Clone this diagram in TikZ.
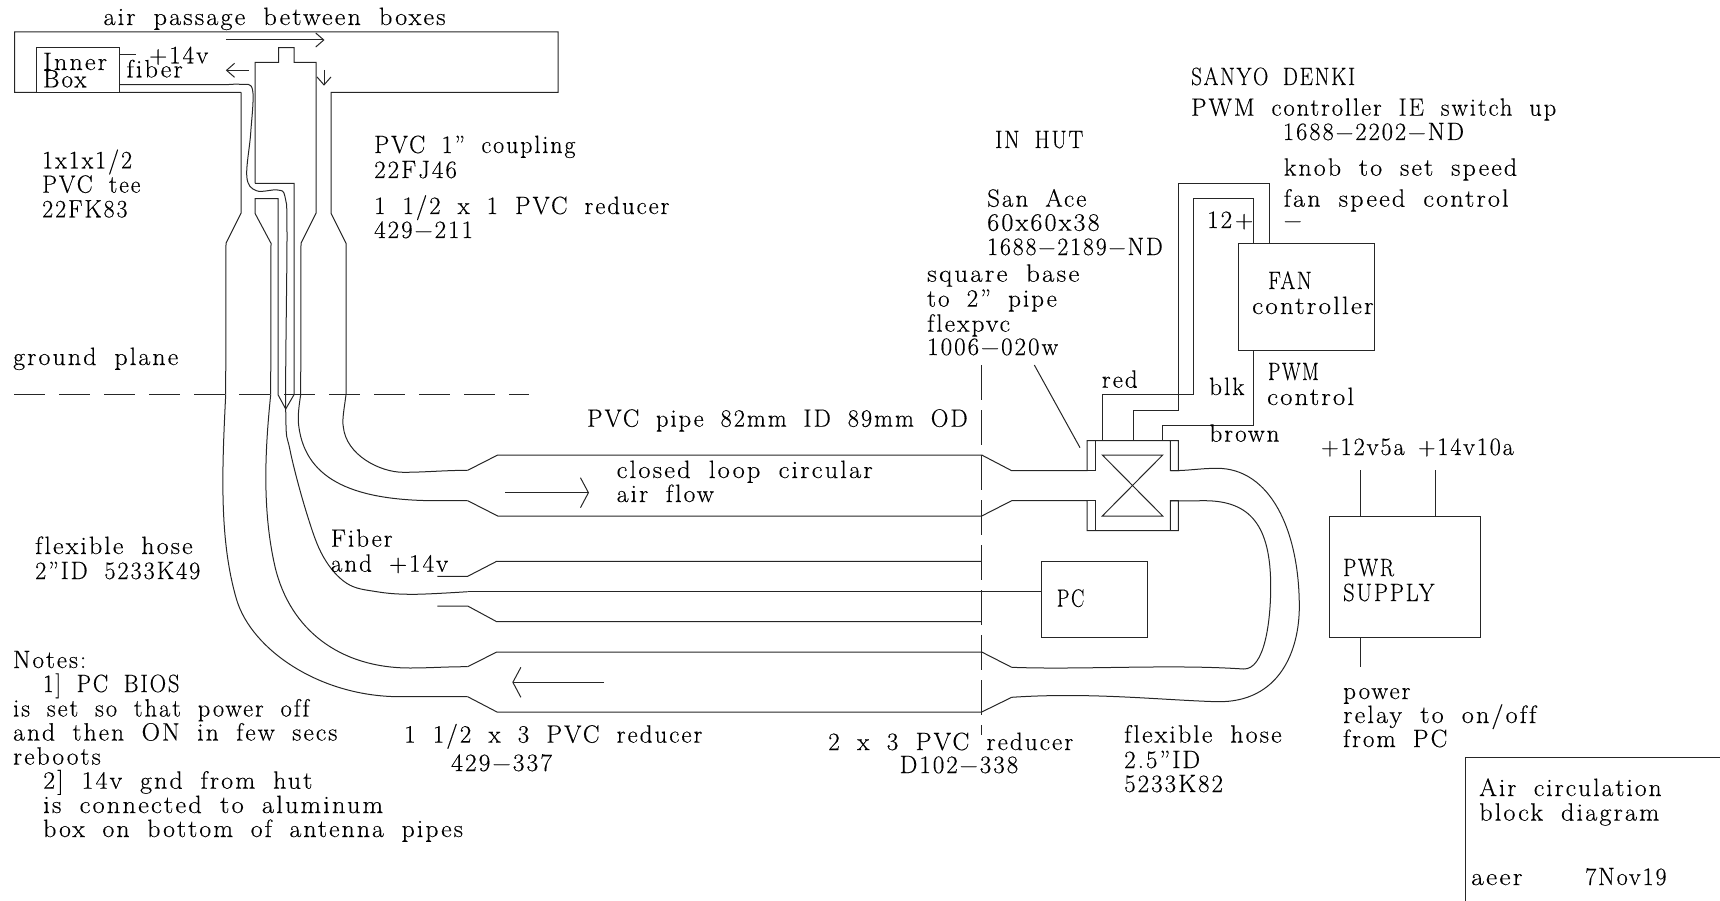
\documentclass[tikz,border=0pt]{standalone}
\usepackage{fontspec}
\setmainfont{Latin Modern Roman}[LetterSpace=8,WordSpace=1.8,Ligatures=NoCommon,FakeBold=0.3]
\usepackage{tikz}
\usetikzlibrary{arrows.meta,calc}
\tikzset{
    pipe/.style={line width=1pt, black!85, line join=miter},
    groundline/.style={pipe, dash pattern=on 31pt off 14pt},
    hutline/.style={pipe, dash pattern=on 35pt off 10pt},
    flowS/.style={pipe, -{Straight Barb[length=8pt,width=14pt]}},
    flowL/.style={pipe, -{Straight Barb[length=8pt,width=30pt]}},
    blockbox/.style={rectangle, draw, line width=1pt, black!85, inner sep=0pt},
    lbl/.style={anchor=base west, inner sep=0pt, black, font=\fontsize{25}{25}\selectfont},
    sx/.style={xscale=#1, transform shape},
}
\begin{document}
\begin{tikzpicture}[x=1pt,y=-1pt]
    \useasboundingbox (0,0) rectangle (1720,901);
    % tee and coupling
    \draw[pipe] (241,92.3) -- (14.5,92.3) -- (14.5,32) -- (558,32) -- (558,92.3) -- (331,92.3) -- (331,213.3) -- (346,243.3) -- (346,394.7);
    \draw[pipe] (241,92.3) -- (241,213.3) -- (226,243.3) -- (225.7,394.7);
    \draw[pipe] (255,183.3) -- (255,62.3) -- (278.6,62.3) -- (278.6,47.7) -- (294,47.7) -- (294,62.3) -- (316,62.3) -- (316,213.3) -- (301,243.3) -- (300.7,394.7);
    \draw[pipe] (255,183.3) -- (294,183.3) -- (294,394.7) -- (285.7,409) -- (278,394.7) -- (278,198.7) -- (255,198.7) -- (255,213.3) -- (271,243.3) -- (270.7,394.7);
    \node[blockbox, fill=white, minimum width=83.4pt, minimum height=44.6pt] (innerbox) at (78.1,70) {};
    \draw[pipe] (innerbox.north east |- 0,55) -- ++(15.2,0);
    \draw[groundline] (14,394.7) -- (529,394.7);
    \draw[hutline] (981.7,365) -- (981.7,735);
    % hoses from the tee
    \draw[pipe] (225.7,394.7) .. controls (222,470) and (219,540) .. (236.7,600) .. controls (252,650) and (320,696.7) .. (400,696.7) -- (467.7,696.7);
    \draw[pipe] (270.7,394.7) .. controls (265,450) and (262,510) .. (275,566.7) .. controls (290,630) and (340,668) .. (410,668) .. controls (430,668) and (445,666.7) .. (467.7,666.7);
    \draw[pipe] (346,394.7) .. controls (344,410) and (342,420) .. (343.3,426.7) .. controls (346,455) and (380,472.3) .. (403.3,472.3) .. controls (425,472.3) and (445,470.3) .. (467.7,470.3);
    \draw[pipe] (300.7,394.7) .. controls (299,405) and (298,415) .. (298.3,421.7) .. controls (303,478) and (350,500) .. (433.3,500.7) -- (467.7,500.7);
    % long pipes
    \draw[pipe] (467.7,470.3) -- (497.7,455) -- (981.7,455) -- (1011.7,470.7) -- (1087,470.7) -- (1087,440.7) -- (1178.3,440.7) -- (1178.3,470.7) -- (1170.3,470.7) -- (1170.3,440.7);
    \draw[pipe] (1095,440.7) -- (1095,470.7) -- (1087,470.7);
    \draw[pipe] (467.7,500.7) -- (497.7,516) -- (981.7,516) -- (1011.7,500.7) -- (1087,500.7) -- (1087,530.7) -- (1178.3,530.7) -- (1178.3,500.7) -- (1170.3,500.7) -- (1170.3,530.7);
    \draw[pipe] (1095,530.7) -- (1095,500.7) -- (1087,500.7);
    \draw[pipe] (437.3,576.3) -- (467.7,576.3) -- (496.7,561.3) -- (981.7,561.3);
    \draw[pipe] (437.3,606) -- (467.7,606) -- (496.7,621.7) -- (981.7,621.7);
    \draw[pipe] (467.7,666.7) -- (496.7,652) -- (981.7,652) -- (1011.7,667.3);
    \draw[pipe] (467.7,696.7) -- (497,712) -- (981.7,712) -- (1011.7,697.3);
    \draw[pipe] (1011.7,697.3) .. controls (1090,692) and (1160,700) .. (1216.7,701.7) .. controls (1280,703) and (1299.3,650) .. (1299.3,606.7) .. controls (1299.3,530) and (1270,468) .. (1216.7,468.3) .. controls (1200,468.3) and (1190,470.7) .. (1170.7,470.7);
    \draw[pipe] (1011.7,667.3) .. controls (1080,670) and (1170,664) .. (1243.3,669) .. controls (1265,670) and (1270.7,620) .. (1270.7,586.7) .. controls (1270.7,525) and (1250,501) .. (1205,500.7) -- (1170.7,501);
    % fan symbol
    \draw[pipe] (1102.3,455) -- (1162.7,455) -- (1102.3,516) -- (1162.7,516) -- cycle;
    \draw[pipe] (1034.3,365) -- (1080,447.7);
    % boxes
    \node[blockbox, minimum width=136pt, minimum height=106.7pt] (fan) at (1306.3,296.7) {};
    \node[blockbox, minimum width=105.6pt, minimum height=76pt] (pc) at (1094.5,599.3) {};
    \node[blockbox, minimum width=150.7pt, minimum height=121pt] (pwr) at (1404.7,576.5) {};
    % wires
    \coordinate (fanred) at (1253.7,243.3);
    \coordinate (fanblk) at (1269,243.3);
    \coordinate (fanpwm) at (1253.7,350);
    \coordinate (pwrA) at (1360,516);
    \coordinate (pwrB) at (1435,516);
    \coordinate (pwrC) at (1360,637);
    \draw[pipe] (1102.3,440.7) -- (1102.3,394.7) -- (1193.3,394.7) -- (1193.3,198.7) -- (1253.7,198.7) -- (fanred);
    \draw[pipe] (1133,440.7) -- (1133,410) -- (1178.3,410) -- (1178.3,183.3) -- (1269,183.3) -- (fanblk);
    \draw[pipe] (1162.7,440.7) -- (1162.7,425.7) -- (1253.7,425.7) -- (fanpwm);
    \draw[pipe] (pwrA) -- ++(0,-46);
    \draw[pipe] (pwrB) -- ++(0,-46);
    \draw[pipe] (pwrC) -- ++(0,30);
    % fiber
    \coordinate (fiberstart) at (119.8,84.7);
    \coordinate (fiberend) at (1041.7,591.7);
    \draw[pipe, smooth, tension=0.6] plot coordinates {(fiberstart) (218,84.7) (241,84.3) (252.6,90) (250.7,133) (246.8,176.7) (256.4,190.7) (277.5,190) (285,196.7) (287,233) (285.7,409) (290,450) (306.7,513.3) (323.3,556.7) (346.7,583.3) (376.7,591.7) (413.3,594.3) (467.7,591.7)};
    \draw[pipe] (467.7,591.7) -- (fiberend);
    % title block
    \coordinate (titlecorner) at (1465.5,757);
    \draw[pipe] (1465.5,901) -- (titlecorner) -- (1720,757);
    % flow arrows
    \draw[flowS] (225.8,40) -- (324.5,40);
    \draw[flowS] (248.8,70.3) -- (225.8,70.3);
    \draw[flowS] (324,70) -- (324,85.7);
    \draw[flowL] (505,492.7) -- (589,492.7);
    \draw[flowL] (604,682.3) -- (512.3,682.3);
    % labels
    \node[lbl, sx=1.05] (lAir) at (103.3,25) {air passage between boxes};
    \node[lbl, sx=1.05] (lInner) at (43,70) {Inner};
    \node[lbl] (lBox) at (43,87.3) {Box};
    \node[lbl] (lFourteen) at (149,63.3) {+14v};
    \node[lbl, sx=1.05] (lFiberTop) at (126.3,77.3) {fiber};
    \node[lbl, sx=.96] (lTeeA) at (42,168.3) {1x1x1/2};
    \node[lbl, sx=.95] (lTeeB) at (42,192.7) {PVC tee};
    \node[lbl, sx=.96] (lTeeC) at (42,217.3) {22FK83};
    \node[lbl, sx=.96] (lCouplingA) at (374,153) {PVC 1” coupling};
    \node[lbl] (lCouplingB) at (374,178) {22FJ46};
    \node[lbl, sx=.99] (lReducerA) at (374,214) {1 1/2 x 1 PVC reducer};
    \node[lbl] (lReducerB) at (374,238) {429−211};
    \node[lbl, sx=1.04] (lGround) at (13,365) {ground plane};
    \node[lbl, sx=1.04] (lHoseA) at (35,554) {flexible hose};
    \node[lbl, sx=.97] (lHoseB) at (35,579) {2”ID 5233K49};
    \node[lbl] (lFiberA) at (330.7,546.7) {Fiber};
    \node[lbl] (lFiberB) at (330.7,571.7) {and +14v};
    \node[lbl, sx=.98] (lPipe) at (587,426.7) {PVC pipe 82mm ID 89mm OD};
    \node[lbl, sx=1.06] (lLoopA) at (616.5,478) {closed loop circular};
    \node[lbl, sx=1.03] (lLoopB) at (616.5,502) {air flow};
    \node[lbl] (lNotes) at (13,668) {Notes:};
    \node[lbl, sx=.91] (lNoteA) at (43,692) {1] PC BIOS};
    \node[lbl, sx=.98] (lNoteB) at (13,716.5) {is set so that power off};
    \node[lbl, sx=1.02] (lNoteC) at (13,740.5) {and then ON in few secs};
    \node[lbl, sx=1.02] (lNoteD) at (13,764.6) {reboots};
    \node[lbl, sx=1.04] (lNoteE) at (43,788.7) {2] 14v gnd from hut};
    \node[lbl, sx=1.06] (lNoteF) at (43,813) {is connected to aluminum};
    \node[lbl, sx=1.03] (lNoteG) at (43,837) {box on bottom of antenna pipes};
    \node[lbl] (lSmallA) at (404,742.6) {1 1/2 x 3 PVC reducer};
    \node[lbl, sx=1.02] (lSmallB) at (451,771) {429−337};
    \node[lbl, sx=1.01] (lHutA) at (828,750) {2 x 3 PVC reducer};
    \node[lbl] (lHutB) at (899.5,773) {D102−338};
    \node[lbl, sx=1.04] (lFlexA) at (1124,742.6) {flexible hose};
    \node[lbl] (lFlexB) at (1124,768) {2.5”ID};
    \node[lbl] (lFlexC) at (1124,792) {5233K82};
    \node[lbl, sx=.88] (lInHut) at (995,148) {IN HUT};
    \node[lbl] (lAceA) at (987,206.7) {San Ace};
    \node[lbl, sx=1.05] (lAceB) at (987,230.7) {60x60x38};
    \node[lbl, sx=.95] (lAceC) at (987,255) {1688−2189−ND};
    \node[lbl, sx=1.08] (lBaseA) at (927,281.7) {square base};
    \node[lbl] (lBaseB) at (927,306.7) {to 2” pipe};
    \node[lbl, sx=1.02] (lBaseC) at (927,331.7) {flexpvc};
    \node[lbl] (lBaseD) at (927,355) {1006−020w};
    \node[lbl] (lRed) at (1101.7,387.7) {red};
    \node[lbl] (lBlk) at (1209,395) {blk};
    \node[lbl] (lBrown) at (1209.3,441.7) {brown};
    \node[lbl] (lTwelve) at (1207,228) {12\hspace{3pt}+};
    \node[lbl] (lMinus) at (1283.5,228) {−};
    \node[lbl, sx=.85] (lSanyoA) at (1191,85) {SANYO DENKI};
    \node[lbl, sx=.98] (lSanyoB) at (1191,115.7) {PWM controller IE switch up};
    \node[lbl, sx=.98] (lSanyoC) at (1282.7,140) {1688−2202−ND};
    \node[lbl, sx=1.04] (lKnob) at (1283.5,175.7) {knob to set speed};
    \node[lbl, sx=1.05] (lSpeed) at (1283.5,206.7) {fan speed control};
    \node[lbl, sx=.85] (lFanA) at (1268,289) {FAN};
    \node[lbl, sx=1.08] (lFanB) at (1252,314) {controller};
    \node[lbl, sx=.78] (lPwmA) at (1268,380) {PWM};
    \node[lbl, sx=1.07] (lPwmB) at (1267,405) {control};
    \node[lbl, sx=.8] (lPC) at (1056.7,606.7) {PC};
    \node[lbl, sx=.97] (lSupplyA) at (1321,455) {+12v5a};
    \node[lbl, sx=.96] (lSupplyB) at (1418,455) {+14v10a};
    \node[lbl, sx=.84] (lPwrA) at (1343,576) {PWR};
    \node[lbl, sx=.9] (lPwrB) at (1343,601) {SUPPLY};
    \node[lbl] (lPowerA) at (1343,699) {power};
    \node[lbl, sx=1.05] (lPowerB) at (1343,723) {relay to on/off};
    \node[lbl] (lPowerC) at (1343,747) {from PC};
    \node[lbl, sx=1.02] (lTitleA) at (1479,796) {Air circulation};
    \node[lbl, sx=1.05] (lTitleB) at (1479,820.6) {block diagram};
    \node[lbl, sx=1.1] (lAeer) at (1471,885) {aeer};
    \node[lbl, sx=.96] (lDate) at (1585,885) {7Nov19};
\end{tikzpicture}
\end{document}
